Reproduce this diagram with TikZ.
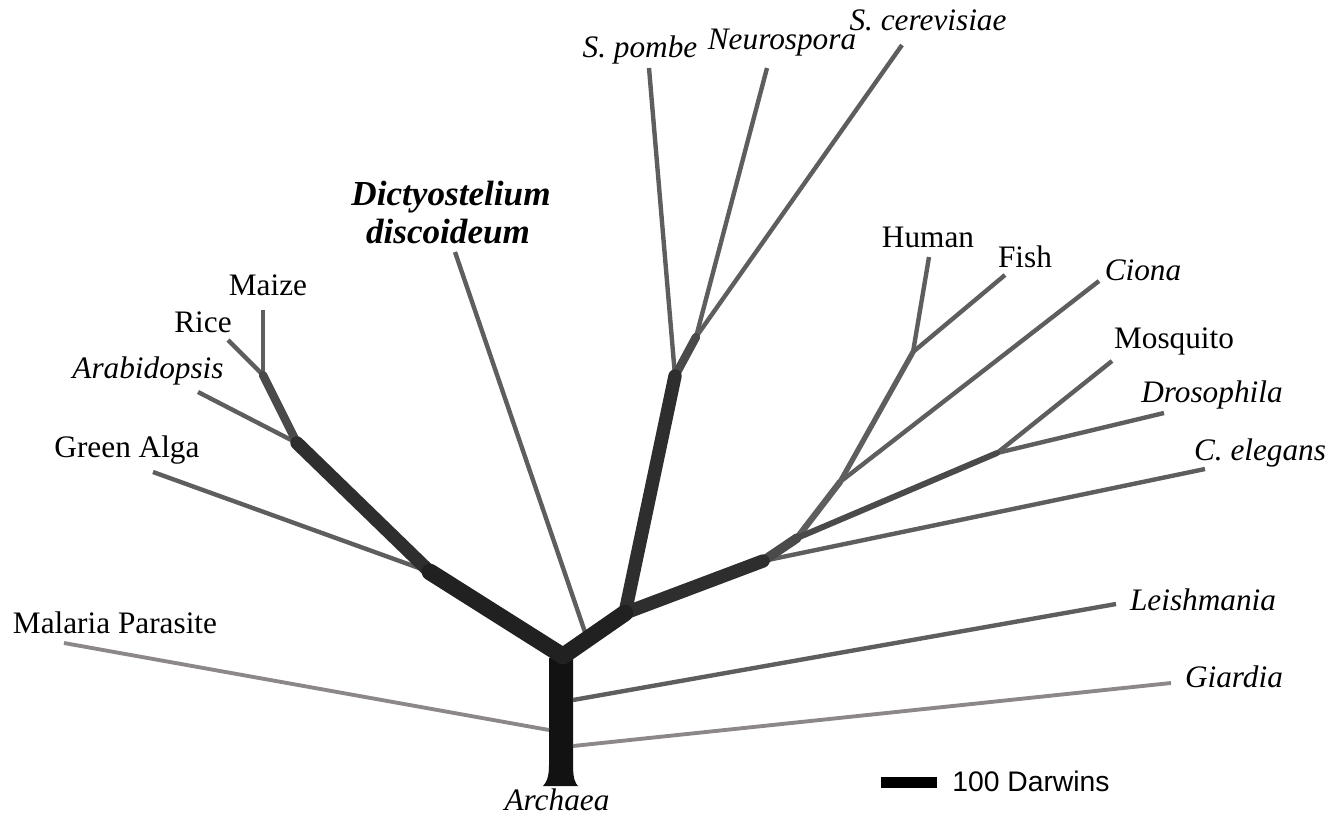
\documentclass[tikz,border=0pt]{standalone}
\usepackage{fontspec}
\setmainfont{Liberation Serif}
\newfontfamily\barfont{Liberation Sans}
\definecolor{trunkc}{rgb}{0.07,0.07,0.07}
\definecolor{darkb}{rgb}{0.13,0.13,0.13}
\definecolor{midb}{rgb}{0.18,0.18,0.18}
\definecolor{greyb}{rgb}{0.29,0.29,0.29}
\definecolor{leafc}{rgb}{0.37,0.37,0.37}
\definecolor{palec}{rgb}{0.55,0.53,0.54}

\begin{document}
\begin{tikzpicture}[x=0.02cm,y=-0.02cm,
  taxon/.style={font=\fontsize{17.8}{20.4}\selectfont, inner sep=0pt, anchor=base},
  genus/.style={taxon, font=\fontsize{17.8}{20.4}\selectfont\itshape},
  stem/.style={color=darkb, line width=9.5pt, line cap=round},
  limb/.style={color=midb, line width=7.6pt, line cap=round},
  twig/.style={color=greyb, line width=4.8pt, line cap=round},
  leaf/.style={color=leafc, line width=2.5pt},
  pale/.style={color=palec, line width=2.2pt}]
\useasboundingbox (0,0) rectangle (1344,828);

% branch points
\coordinate (root) at (563,656);
\coordinate (pA) at (430,572);
\coordinate (pB) at (297,443);
\coordinate (pC) at (263,375);
\coordinate (fA) at (625,613);
\coordinate (fB) at (675,376);
\coordinate (fC) at (696,337);
\coordinate (aA) at (763,561);
\coordinate (aB) at (797,538);
\coordinate (aC) at (840,482);
\coordinate (aD) at (913,352);
\coordinate (arth) at (997,453);
\coordinate (dj) at (587,638);
\coordinate (tL) at (573,700);
\coordinate (tG) at (573,746);
\coordinate (tM) at (549,730);

% leaf ends
\coordinate (maize) at (263,310);
\coordinate (rice) at (228,340);
\coordinate (arab) at (198,392);
\coordinate (alga) at (153,472);
\coordinate (malaria) at (64,643);
\coordinate (dicty) at (455,252);
\coordinate (pombe) at (649,68);
\coordinate (neuro) at (767,68);
\coordinate (cerev) at (902,45);
\coordinate (human) at (929,257);
\coordinate (fish) at (1005,275);
\coordinate (ciona) at (1099,281);
\coordinate (mosq) at (1112,361);
\coordinate (dros) at (1164,413);
\coordinate (eleg) at (1205,469);
\coordinate (leish) at (1116,604);
\coordinate (giard) at (1171,683);

% trunk
\fill[trunkc] (549,658) -- (549,765) .. controls (549,778) and (546,783) .. (543,786)
  -- (578,786) .. controls (575,783) and (573,778) .. (573,765) -- (573,658) -- cycle;

% pale and thin leaves
\draw[pale] (tM) to (malaria);
\draw[pale] (tG) to (giard);
\draw[leaf] (tL) to (leish);
\draw[leaf] (dj) to (dicty);
\draw[leaf] (pA) to (alga);
\draw[leaf] (pB) to (arab);
\draw[leaf] (pC) to (rice);
\draw[leaf] (pC) to (maize);
\draw[leaf] (fB) to (pombe);
\draw[leaf] (fC) to (neuro);
\draw[leaf] (fC) to (cerev);
\draw[leaf] (aA) to (eleg);
\draw[leaf] (aC) to (ciona);
\draw[leaf] (aD) to (human);
\draw[leaf] (aD) to (fish);
\draw[leaf] (arth) to (mosq);
\draw[leaf] (arth) to (dros);

% inner branches
\draw[leafc, line width=3pt, line cap=round] (aC) to (aD);
\draw[leafc, line width=3.6pt, line cap=round] (aB) to (aC);
\draw[greyb, line width=3.4pt, line cap=round] (aB) to (arth);
\draw[twig] (pB) to (pC);
\draw[twig] (fB) to (fC);
\draw[twig, line width=5.4pt] (aA) to (aB);
\draw[limb] (pA) to (pB);
\draw[limb] (fA) to (fB);
\draw[limb] (fA) to (aA);
\draw[stem] (root) to (pA);
\draw[stem] (root) to (fA);

% labels
\node[taxon] (lmaize) at (268,295) {Maize};
\node[taxon] (lrice) at (203,332) {Rice};
\node[genus] (larab) at (148,378) {Arabidopsis};
\node[taxon] (lalga) at (127,457) {Green Alga};
\node[taxon] (lmalaria) at (115,633) {Malaria Parasite};
\node[genus, font=\fontsize{20}{23}\selectfont\bfseries\itshape] (ldicty1) at (451,205) {Dictyostelium};
\node[genus, font=\fontsize{20}{23}\selectfont\bfseries\itshape] (ldicty2) at (448,243) {discoideum};
\node[genus] (lpombe) at (640,58) {S. pombe};
\node[genus] (lneuro) at (782,50) {Neurospora};
\node[genus] (lcerev) at (928,31) {S. cerevisiae};
\node[taxon] (lhuman) at (928,247) {Human};
\node[taxon] (lfish) at (1025,267) {Fish};
\node[genus] (lciona) at (1143,280) {Ciona};
\node[taxon] (lmosq) at (1174,348) {Mosquito};
\node[genus] (ldros) at (1212,402) {Drosophila};
\node[genus] (leleg) at (1260,460) {C. elegans};
\node[genus] (lleish) at (1203,610) {Leishmania};
\node[genus] (lgiard) at (1234,687) {Giardia};
\node[genus] (larch) at (557,810) {Archaea};

% scale bar
\fill[black] (881,777) rectangle (937,788);
\node[inner sep=0pt, anchor=base west, font=\barfont\fontsize{16.1}{19}\selectfont] (lbar) at (952,791) {100 Darwins};
\end{tikzpicture}
\end{document}
